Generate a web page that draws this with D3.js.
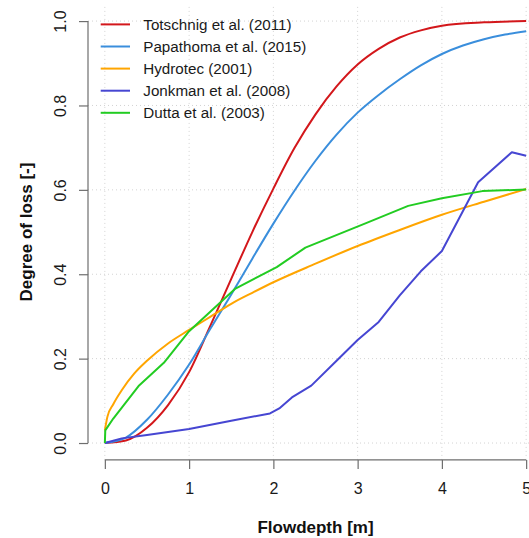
<!DOCTYPE html>
<html>
<head>
<meta charset="utf-8">
<script src="https://cdn.jsdelivr.net/npm/d3@7"></script>
<style>
  html, body { margin: 0; padding: 0; background: #fff; }
  svg { display: block; font-family: "Liberation Sans", Arial, sans-serif; }
</style>
</head>
<body>
<div id="chart"></div>
<script>
// ---- data ----
const seriesNames = ["Totschnig et al. (2011)", "Papathoma et al. (2015)", "Hydrotec (2001)", "Jonkman et al. (2008)", "Dutta et al. (2003)"];
const seriesColors = ["#D3171B", "#3A8EDC", "#FFA500", "#4646D2", "#22CC22"];

const totschnig = [[0,0],[0.25,0.006],[0.5,0.036],[0.75,0.09],[1.0,0.168],[1.25,0.277],[1.5,0.389],[1.75,0.5],[2.0,0.603],[2.25,0.699],[2.5,0.779],[2.75,0.845],[3.0,0.897],[3.25,0.934],[3.5,0.961],[3.75,0.978],[4.0,0.989],[4.5,0.997],[5.0,1.0]];
const papathoma = [[0,0],[0.25,0.013],[0.5,0.055],[0.75,0.115],[1.0,0.186],[1.25,0.27],[1.5,0.352],[1.75,0.437],[2.0,0.52],[2.25,0.598],[2.5,0.669],[2.75,0.731],[3.0,0.783],[3.25,0.825],[3.5,0.862],[3.75,0.895],[4.0,0.922],[4.25,0.942],[4.5,0.957],[4.75,0.968],[5.0,0.976]];
const hydrotec = [[0,0.03],[0.03,0.062],[0.1,0.092],[0.2,0.125],[0.35,0.165],[0.5,0.195],[0.75,0.236],[1.0,0.268],[1.25,0.299],[1.5,0.33],[1.75,0.356],[2.0,0.381],[2.5,0.425],[3.0,0.467],[3.5,0.505],[4.0,0.541],[4.5,0.572],[5.0,0.602]];
const jonkman = [[0,0],[0.2,0.011],[0.5,0.019],[0.75,0.026],[1.0,0.033],[1.5,0.053],[1.96,0.07],[2.07,0.082],[2.22,0.108],[2.45,0.136],[2.75,0.195],[3.0,0.244],[3.25,0.287],[3.5,0.35],[3.75,0.407],[4.0,0.455],[4.43,0.618],[4.83,0.689],[5.0,0.681]];
const dutta = [[0,0],[0.005,0.03],[0.1,0.058],[0.4,0.135],[0.7,0.19],[1.0,0.265],[1.55,0.366],[2.04,0.417],[2.38,0.463],[3.1,0.521],[3.6,0.562],[4.0,0.58],[4.48,0.597],[5.0,0.601]];

const xTicks = [0, 1, 2, 3, 4, 5];
const yTicks = [0, 0.2, 0.4, 0.6, 0.8, 1.0];

const xTitle = "Flowdepth [m]";
const yTitle = "Degree of loss [-]";

// ---- layout ----
const W = 529, H = 538;
const svg = d3.select("#chart").append("svg").attr("width", W).attr("height", H);

const x = d3.scaleLinear().domain([-0.2, 5.2]).range([88, 543]);
const y = d3.scaleLinear().domain([-0.04, 1.04]).range([459.9, 4.2]);

const font = '"Liberation Sans", Arial, sans-serif';

// grid
const grid = svg.append("g").attr("stroke", "#d3d3d3").attr("stroke-width", 1).attr("stroke-dasharray", "1,3");
grid.selectAll("line.v").data(xTicks).join("line")
  .attr("x1", d => x(d)).attr("x2", d => x(d))
  .attr("y1", y.range()[0]).attr("y2", y.range()[1]);
grid.selectAll("line.h").data(yTicks).join("line")
  .attr("y1", d => y(d)).attr("y2", d => y(d))
  .attr("x1", x.range()[0]).attr("x2", x.range()[1]);

// series
const smooth = d3.line().x(d => x(d[0])).y(d => y(d[1])).curve(d3.curveMonotoneX);
const straight = d3.line().x(d => x(d[0])).y(d => y(d[1]));
const series = [
  {data: totschnig, line: smooth},
  {data: papathoma, line: smooth},
  {data: hydrotec, line: smooth},
  {data: jonkman, line: straight},
  {data: dutta, line: straight}
];
const lines = svg.append("g");
series.forEach((s, i) => {
  lines.append("path").attr("d", s.line(s.data))
    .attr("fill", "none").attr("stroke", seriesColors[i])
    .attr("stroke-width", 2).attr("stroke-linejoin", "round");
});

// x axis
const axisColor = "#6e6e6e";
const xAxisY = 459.9;
const gx = svg.append("g").attr("transform", `translate(0,${xAxisY})`)
  .call(d3.axisBottom(x).tickValues(xTicks).tickSize(9).tickFormat(d3.format("d")));
gx.select(".domain").remove();
gx.append("line").attr("x1", x(0)).attr("x2", x(5)).attr("stroke", axisColor).attr("stroke-width", 1.2);
gx.selectAll(".tick line").attr("stroke", axisColor).attr("stroke-width", 1.2);
gx.selectAll(".tick text").attr("y", 34).attr("dy", null)
  .attr("font-size", 16).attr("font-family", font).attr("fill", "#1a1a1a");

// y axis
const yAxisX = 88;
const gy = svg.append("g").attr("transform", `translate(${yAxisX},0)`)
  .call(d3.axisLeft(y).tickValues(yTicks).tickSize(9).tickFormat(d3.format(".1f")));
gy.select(".domain").remove();
gy.append("line").attr("y1", y(0)).attr("y2", y(1)).attr("stroke", axisColor).attr("stroke-width", 1.2);
gy.selectAll(".tick line").attr("stroke", axisColor).attr("stroke-width", 1.2);
gy.selectAll(".tick text").attr("x", null).attr("dy", null)
  .attr("transform", "translate(-22,0) rotate(-90)")
  .attr("text-anchor", "middle")
  .attr("font-size", 16).attr("font-family", font).attr("fill", "#1a1a1a");

// titles
svg.append("text").attr("x", 315.5).attr("y", 532.5).attr("text-anchor", "middle")
  .attr("font-size", 17).attr("font-weight", "bold").attr("font-family", font).attr("fill", "#111")
  .text(xTitle);
svg.append("text").attr("transform", "translate(32,232) rotate(-90)").attr("text-anchor", "middle")
  .attr("font-size", 17).attr("font-weight", "bold").attr("font-family", font).attr("fill", "#111")
  .text(yTitle);

// legend
const legend = svg.append("g");
const rowY = d3.scaleLinear().domain([0, 4]).range([24.4, 112.8]);
seriesNames.forEach((name, i) => {
  legend.append("line").attr("x1", 100.7).attr("x2", 130).attr("y1", rowY(i)).attr("y2", rowY(i))
    .attr("stroke", seriesColors[i]).attr("stroke-width", 2);
  legend.append("text").attr("x", 143.3).attr("y", rowY(i) + 5.4)
    .attr("font-size", 15.2).attr("font-family", font).attr("fill", "#1a1a1a").text(name);
});
</script>
</body>
</html>
